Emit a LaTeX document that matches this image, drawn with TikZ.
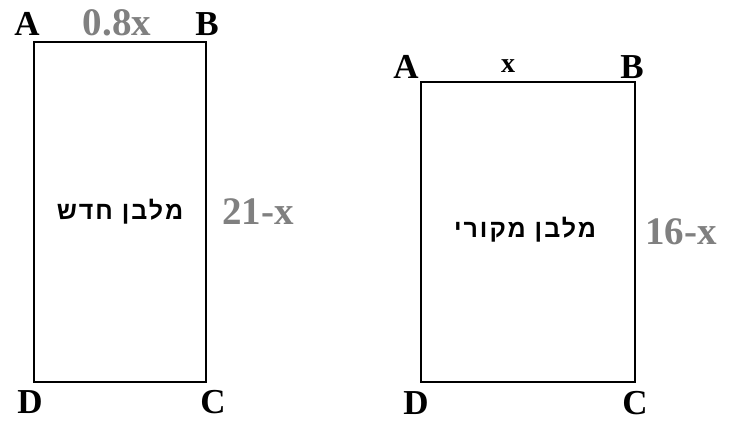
\documentclass[tikz,border=0pt]{standalone}
\usepackage{fontspec}
\setmainfont{Liberation Serif}
\newfontfamily\hebfont[Script=Hebrew, LetterSpace=8]{Liberation Sans}
\TeXXeTstate=1
\usetikzlibrary{positioning}
\definecolor{sideGray}{HTML}{808080}

\begin{document}
\begin{tikzpicture}[x=1pt, y=1pt,
  corner/.style={inner sep=0pt, font=\fontsize{35}{35}\selectfont\bfseries},
  sidelbl/.style={inner sep=0pt, text=sideGray, font=\fontsize{39}{39}\selectfont\bfseries},
  heblbl/.style={inner sep=0pt, font=\fontsize{25}{25}\selectfont\hebfont\bfseries}]
  \useasboundingbox (0,0) rectangle (732,423);

  % new rectangle
  \coordinate (nA) at (34,381);
  \coordinate (nB) at (206,381);
  \coordinate (nC) at (206,41);
  \coordinate (nD) at (34,41);
  \draw[line width=1.3pt] (nA) -- (nB) -- (nC) -- (nD) -- cycle;
  \node[corner] (nAl) at (27,399) {A};
  \node[corner] (nBl) at (207,399) {B};
  \node[corner] (nCl) at (213,21) {C};
  \node[corner] (nDl) at (30,21) {D};
  \node[sidelbl] (ntop) at (117,400) {0.8x};
  \node[sidelbl] (nside) at (258,211) {21-x};
  \node[heblbl] (nname) at (120,211) {\beginR מלבן חדש\endR};

  % original rectangle
  \coordinate (oA) at (421,341);
  \coordinate (oB) at (635,341);
  \coordinate (oC) at (635,41);
  \coordinate (oD) at (421,41);
  \draw[line width=1.3pt] (oA) -- (oB) -- (oC) -- (oD) -- cycle;
  \draw[line width=2.2pt] (oB) -- (oC);
  \node[corner] (oAl) at (406,356) {A};
  \node[corner] (oBl) at (632,356) {B};
  \node[corner] (oCl) at (635,20) {C};
  \node[corner] (oDl) at (416,20) {D};
  \node[corner, font=\fontsize{28}{28}\selectfont\bfseries] (otop) at (508,357) {x};
  \node[sidelbl] (oside) at (681,191) {16-x};
  \node[heblbl] (oname) at (525,193) {\beginR מלבן מקורי\endR};
\end{tikzpicture}
\end{document}
